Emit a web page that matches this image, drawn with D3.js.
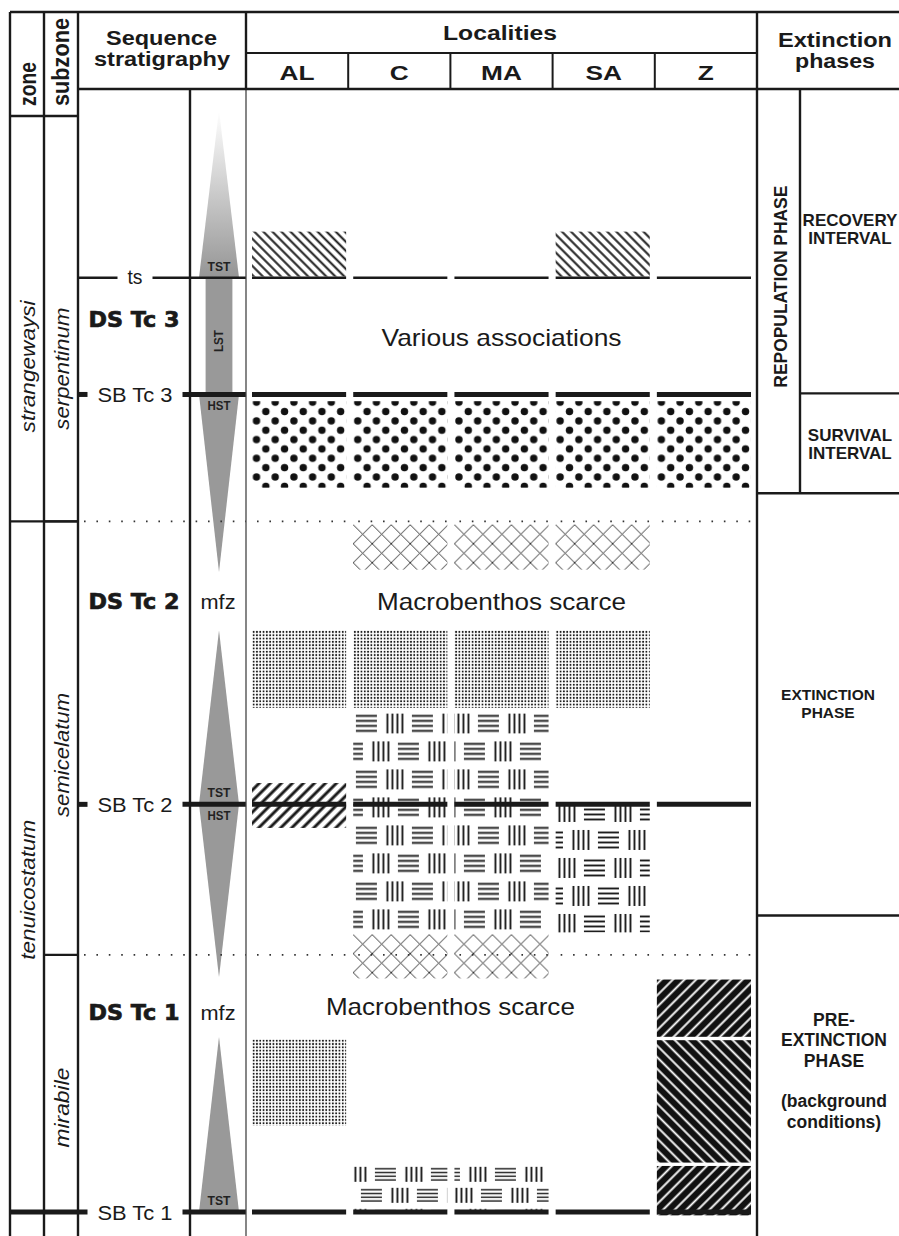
<!DOCTYPE html>
<meta charset="utf-8" />
<html>
  <head>
    <script src="https://d3js.org/d3.v7.min.js"></script>
    <style>
      body {
        margin: 0;
        background-color: white;
      }
      svg text {
        font-family: "Liberation Sans", Arial, sans-serif;
        fill: #1a1a1a;
      }
    </style>
  </head>
  <body>
    <div id="chart"></div>
  </body>

  <script>
    // stratigraphic levels: 0 = SB Tc 1, 100 = top of the log
    const localities = ["AL", "C", "MA", "SA", "Z"];

    const zones = [
      {name: "strangewaysi", top: 97.6, base: 61.5, label: 75.3},
      {name: "tenuicostatum", top: 61.5, base: -2.1, label: 28.7}
    ];

    const subzones = [
      {name: "serpentinum", top: 97.6, base: 61.5, label: 75.1},
      {name: "semicelatum", top: 61.5, base: 22.9, label: 40.7},
      {name: "mirabile", top: 22.9, base: -2.1, label: 9.3}
    ];

    const surfaces = [
      {name: "ts", level: 83.2, kind: "ts"},
      {name: "SB Tc 3", level: 72.8, kind: "SB"},
      {name: "SB Tc 2", level: 36.3, kind: "SB"},
      {name: "SB Tc 1", level: 0, kind: "SB"}
    ];

    const dottedLevels = [61.5, 22.9];

    const sequences = [
      {name: "DS Tc 3", level: 79.5, mfz: false},
      {name: "DS Tc 2", level: 54.4, mfz: true},
      {name: "DS Tc 1", level: 17.8, mfz: true}
    ];

    // systems tracts: wide end sits on the surface, narrow end is the apex
    const tracts = [
      {name: "TST", wide: 83.2, narrow: 98.1},
      {name: "LST", wide: 83.2, narrow: 72.8},
      {name: "HST", wide: 72.8, narrow: 57.0},
      {name: "TST", wide: 36.3, narrow: 51.8},
      {name: "HST", wide: 36.3, narrow: 20.9},
      {name: "TST", wide: 0, narrow: 15.6}
    ];

    const facies = [
      {loc: "AL", kind: "hatchThin", top: 87.3, base: 83.3},
      {loc: "SA", kind: "hatchThin", top: 87.3, base: 83.3},
      {loc: "AL", kind: "bigDots", top: 72.2, base: 64.5},
      {loc: "C", kind: "bigDots", top: 72.2, base: 64.5},
      {loc: "MA", kind: "bigDots", top: 72.2, base: 64.5},
      {loc: "SA", kind: "bigDots", top: 72.2, base: 64.5},
      {loc: "Z", kind: "bigDots", top: 72.2, base: 64.5},
      {loc: "C", kind: "cross", top: 61.2, base: 57.2},
      {loc: "MA", kind: "cross", top: 61.2, base: 57.2},
      {loc: "SA", kind: "cross", top: 61.2, base: 57.2},
      {loc: "AL", kind: "fineDots", top: 51.8, base: 44.9},
      {loc: "C", kind: "fineDots", top: 51.8, base: 44.9},
      {loc: "MA", kind: "fineDots", top: 51.8, base: 44.9},
      {loc: "SA", kind: "fineDots", top: 51.8, base: 44.9},
      {loc: "C", kind: "weave", top: 44.4, base: 24.9},
      {loc: "MA", kind: "weave", top: 44.4, base: 24.9},
      {loc: "SA", kind: "weave", top: 36.2, base: 24.9},
      {loc: "AL", kind: "hatchBold", top: 38.2, base: 34.2},
      {loc: "C", kind: "cross", top: 24.7, base: 20.8},
      {loc: "MA", kind: "cross", top: 24.7, base: 20.8},
      {loc: "Z", kind: "darkRight", top: 20.7, base: 15.6},
      {loc: "Z", kind: "darkLeft", top: 15.3, base: 4.4},
      {loc: "Z", kind: "darkRight", top: 4.1, base: -0.3},
      {loc: "AL", kind: "fineDots", top: 15.4, base: 7.7},
      {loc: "C", kind: "weave", top: 4.2, base: 0.2},
      {loc: "MA", kind: "weave", top: 4.2, base: 0.2}
    ];

    const notes = [
      {text: "Various associations", level: 77.9, from: "AL", to: "Z"},
      {text: "Macrobenthos scarce", level: 54.4, from: "AL", to: "Z"},
      {text: "Macrobenthos scarce", level: 18.3, from: "AL", to: "SA"}
    ];

    const phases = [
      {lines: ["REPOPULATION  PHASE"], top: 100, base: 64.0, label: 82.4},
      {lines: ["EXTINCTION", "PHASE"], top: 64.0, base: 26.4, label: 45.3},
      {lines: ["PRE-", "EXTINCTION", "PHASE", "", "(background", "conditions)"], top: 26.4, base: -2.1, label: 12.6}
    ];

    const intervals = [
      {lines: ["RECOVERY", "INTERVAL"], top: 100, base: 72.9, label: 87.5},
      {lines: ["SURVIVAL", "INTERVAL"], top: 72.9, base: 64.0, label: 68.4}
    ];

    // ---------------------------------------------------------------
    const width = 899, height = 1236;
    const X = {left: 10, zone: 44, sub: 78, tri: 190, seq: 246, loc: 757, split: 800, right: 899};
    const Y = {top: 12, head: 89, zoneHead: 116, locHead: 53, bottom: 1236};
    const ink = "#1a1a1a";

    const svg = d3.select("#chart").append("svg")
      .attr("width", width)
      .attr("height", height);

    const y = d3.scaleLinear().domain([0, 100]).range([1212, Y.head]);
    const locHead = d3.scaleBand().domain(localities).range([X.seq, X.loc]);
    const loc = d3.scaleBand().domain(localities).range([252, 751]).paddingInner(0.07);
    const tri = d3.scaleLinear().domain([-1, 1]).range([199, 239]);

    const defs = svg.append("defs");

    const grad = defs.append("linearGradient").attr("id", "fade")
      .attr("x1", 0).attr("y1", 0).attr("x2", 0).attr("y2", 1);
    grad.append("stop").attr("offset", 0).attr("stop-color", "#ffffff");
    grad.append("stop").attr("offset", 1).attr("stop-color", "#959595");

    const hatchStyle = {
      hatchThin: {pitch: 6.4, w: 2, angle: -45, color: ink, bg: null},
      hatchBold: {pitch: 7.8, w: 3, angle: 45, color: ink, bg: null},
      darkRight: {pitch: 8.2, w: 1.9, angle: 45, color: "#fff", bg: "#111"},
      darkLeft: {pitch: 8.2, w: 1.9, angle: -45, color: "#fff", bg: "#111"}
    };

    // weave phase per box: [dx, dy, vertical scale]
    const weavePhase = {
      "C:44.4": [2.7, 0, 1],
      "MA:44.4": [23.5, 0, 1],
      "SA:36.2": [42.3, 24.5, 1],
      "C:4.2": [21.7, 2, 0.75],
      "MA:4.2": [40.5, 2, 0.75]
    };

    const makePattern = (id, d, x0, y0) => {
      const p = defs.append("pattern").attr("id", id).attr("patternUnits", "userSpaceOnUse");
      if (hatchStyle[d.kind]) {
        const s = hatchStyle[d.kind];
        p.attr("width", s.pitch).attr("height", s.pitch)
          .attr("patternTransform", `rotate(${s.angle})`);
        if (s.bg) p.append("rect").attr("width", s.pitch).attr("height", s.pitch).attr("fill", s.bg);
        p.append("line")
          .attr("x1", s.pitch / 2).attr("x2", s.pitch / 2)
          .attr("y1", -1).attr("y2", s.pitch + 1)
          .attr("stroke", s.color).attr("stroke-width", s.w);
      } else if (d.kind === "bigDots") {
        const s = 18.7;
        p.attr("width", s).attr("height", s)
          .attr("patternTransform", `translate(${x0 + 4.5},${y0 + 1})`);
        [[0, 0], [s, 0], [0, s], [s, s], [s / 2, s / 2]].forEach(c =>
          p.append("circle").attr("cx", c[0]).attr("cy", c[1]).attr("r", 3.7).attr("fill", "#111"));
      } else if (d.kind === "fineDots") {
        const s = 3.3;
        p.attr("width", s).attr("height", s)
          .attr("patternTransform", `translate(${x0},${y0})`);
        p.append("circle").attr("cx", s / 2).attr("cy", s / 2).attr("r", 1.0).attr("fill", "#1a1a1a");
      } else if (d.kind === "cross") {
        const s = 19;
        p.attr("width", s).attr("height", s)
          .attr("patternTransform", `translate(${x0},${y0})`);
        p.append("path").attr("d", `M0,0L${s},${s}M${s},0L0,${s}`)
          .attr("stroke", "#222").attr("stroke-width", 0.9).attr("fill", "none");
      } else if (d.kind === "weave") {
        const ph = weavePhase[`${d.loc}:${d.top}`] || [0, 0, 1];
        p.attr("width", 56).attr("height", 56)
          .attr("patternTransform", `translate(${x0 + ph[0]},${y0 + ph[1]}) scale(1,${ph[2]})`);
        const g = p.append("g").attr("stroke", ink).attr("stroke-width", 1.9);
        const hBlock = (bx, by) => [2.5, 7.5, 12.5, 17.5].forEach(o =>
          g.append("line").attr("x1", bx).attr("x2", bx + 21).attr("y1", by + o).attr("y2", by + o));
        const vBlock = (bx, by) => [1.5, 6.5, 11.5, 16.5].forEach(o =>
          g.append("line").attr("x1", bx + o).attr("x2", bx + o).attr("y1", by).attr("y2", by + 20));
        hBlock(0, 0);
        vBlock(30, 0);
        vBlock(16, 28);
        hBlock(42, 28);
        hBlock(-14, 28);
      }
    };

    const line = (g, x1, y1, x2, y2, w = 2.4, c = ink) => g.append("line")
      .attr("x1", x1).attr("y1", y1).attr("x2", x2).attr("y2", y2)
      .attr("stroke", c).attr("stroke-width", w);

    const label = (g, s, x, yy, o = {}) => {
      const t = g.append("text")
        .attr("x", x).attr("y", yy)
        .attr("text-anchor", o.anchor || "middle")
        .style("font-size", (o.size || 16) + "px")
        .style("font-weight", o.weight || "normal")
        .style("font-style", o.italic ? "italic" : "normal")
        .text(s);
      if (o.family) t.style("font-family", o.family);
      if (o.fill) t.style("fill", o.fill);
      if (o.heavy) t.style("stroke", ink).style("stroke-width", o.heavy);
      if (o.len) t.attr("textLength", o.len).attr("lengthAdjust", "spacingAndGlyphs");
      if (o.stretch) {
        const w = t.node().getComputedTextLength();
        t.attr("textLength", w * o.stretch).attr("lengthAdjust", "spacingAndGlyphs");
      }
      if (o.rotate) t.attr("transform", `rotate(-90,${x},${yy})`);
      return t;
    };

    // --- systems tract triangles -----------------------------------
    const gTri = svg.append("g");
    const highest = d3.max(tracts, d => d.narrow);
    tracts.forEach(d => {
      if (d.name === "LST") {
        gTri.append("rect")
          .attr("x", tri(-0.67)).attr("width", tri(0.67) - tri(-0.67))
          .attr("y", y(d.wide)).attr("height", y(d.narrow) - y(d.wide))
          .attr("fill", "#999");
      } else {
        gTri.append("path")
          .attr("d", d3.line()([[tri(-1), y(d.wide)], [tri(1), y(d.wide)], [tri(0), y(d.narrow)]]) + "Z")
          .attr("fill", d.narrow === highest ? "url(#fade)" : "#999");
      }
    });

    // --- facies boxes ---------------------------------------------
    const gFac = svg.append("g");
    facies.forEach((d, i) => {
      const x0 = loc(d.loc), y0 = y(d.top);
      makePattern(`f${i}`, d, x0, y0);
      gFac.append("rect")
        .attr("x", x0).attr("width", loc.bandwidth())
        .attr("y", y0).attr("height", y(d.base) - y0)
        .attr("fill", `url(#f${i})`);
    });

    // --- dotted biozone boundaries ---------------------------------
    const gDot = svg.append("g");
    dottedLevels.forEach(v => {
      line(gDot, 84, y(v), X.seq, y(v), 1.8, "#333").attr("stroke-dasharray", "1.6,10.8");
      localities.forEach(l => line(gDot, loc(l) + 5, y(v), loc(l) + loc.bandwidth(), y(v), 1.8, "#333")
        .attr("stroke-dasharray", "1.6,10.8"));
    });

    // --- surfaces ------------------------------------------------------
    const gSurf = svg.append("g");
    const textX = 135;
    surfaces.forEach((s, i) => {
      const w = s.kind === "SB" ? 5 : 2.5;
      const tl = s.kind === "SB" ? 75 : 15;
      const yy = y(s.level);
      const first = i === surfaces.length - 1 ? X.left : X.sub;
      line(gSurf, first, yy, textX - tl / 2 - 10, yy, w);
      line(gSurf, textX + tl / 2 + 10, yy, X.seq, yy, w);
      localities.forEach(l => line(gSurf, loc(l), yy, loc(l) + loc.bandwidth(), yy, w));
      label(gSurf, s.name, textX, yy + (s.kind === "SB" ? 7.5 : 6), {size: 20, len: tl});
    });

    // --- frame ----------------------------------------------------------
    const gFrame = svg.append("g");
    line(gFrame, X.left, Y.top, X.right, Y.top);
    [X.left, X.zone, X.sub, X.loc].forEach(x => line(gFrame, x, Y.top, x, Y.bottom));
    line(gFrame, X.tri, Y.head, X.tri, Y.bottom);
    line(gFrame, X.seq, Y.top, X.seq, Y.head);
    line(gFrame, X.seq, Y.head, X.seq, Y.bottom, 1.3, "#444");
    line(gFrame, X.left, Y.zoneHead, X.sub, Y.zoneHead);
    line(gFrame, X.sub, Y.head, X.right, Y.head);
    line(gFrame, X.seq, Y.locHead, X.loc, Y.locHead, 2);
    localities.slice(1).forEach(l => line(gFrame, locHead(l), Y.locHead, locHead(l), Y.head, 2));
    zones.slice(1).forEach(z => line(gFrame, X.left, y(z.top), X.sub, y(z.top)));
    subzones.slice(1).forEach(z => line(gFrame, X.zone, y(z.top), X.sub, y(z.top)));
    line(gFrame, X.split, Y.head, X.split, y(phases[0].base));
    intervals.slice(0, -1).forEach(d => line(gFrame, X.split, y(d.base), X.right, y(d.base)));
    phases.slice(0, -1).forEach(d => line(gFrame, X.loc, y(d.base), X.right, y(d.base)));

    // --- text -------------------------------------------------------------
    const gText = svg.append("g");
    label(gText, "zone", 36, 106, {anchor: "start", size: 23, weight: "bold", len: 44, rotate: true});
    label(gText, "subzone", 69, 106, {anchor: "start", size: 23, weight: "bold", len: 88, rotate: true});
    label(gText, "Sequence", 161.5, 45, {size: 20, weight: "bold", len: 111});
    label(gText, "stratigraphy", 162, 66, {size: 20, weight: "bold", len: 136});
    label(gText, "Localities", 500, 40, {size: 20, weight: "bold", len: 114});
    localities.forEach(l => label(gText, l, locHead(l) + locHead.bandwidth() / 2, 80,
      {size: 21, weight: "bold", stretch: 1.25}));
    label(gText, "Extinction", 835, 47, {size: 20, weight: "bold", len: 114});
    label(gText, "phases", 835, 68, {size: 20, weight: "bold", len: 80});

    const zoneLen = {strangewaysi: 132, tenuicostatum: 140, serpentinum: 122, semicelatum: 124, mirabile: 80};
    zones.forEach(z => label(gText, z.name, 35, y(z.label), {size: 21, italic: true, len: zoneLen[z.name], rotate: true}));
    subzones.forEach(z => label(gText, z.name, 69, y(z.label), {size: 21, italic: true, len: zoneLen[z.name], rotate: true}));

    sequences.forEach(s => {
      label(gText, s.name, 134, y(s.level) + 7.5,
        {size: 21, weight: "bold", family: "'DejaVu Sans', sans-serif", len: 91, heavy: 0.7});
      if (s.mfz) label(gText, "mfz", 218, y(s.level) + 7.5, {size: 20, len: 35});
    });

    tracts.forEach(d => {
      if (d.name === "LST") {
        label(gText, d.name, 223.5, (y(d.wide) + y(d.narrow)) / 2 + 5,
          {size: 13, weight: "bold", len: 22, rotate: true, fill: "#222"});
      } else {
        const up = d.narrow > d.wide;
        label(gText, d.name, tri(0), y(d.wide) + (up ? -7 : 16),
          {size: 13, weight: "bold", len: 23, fill: "#222"});
      }
    });

    notes.forEach(n => {
      const cx = (locHead(n.from) + locHead(n.to) + locHead.bandwidth()) / 2;
      label(gText, n.text, cx, y(n.level) + 8.5, {size: 24, len: n.text.startsWith("Various") ? 240 : 249});
    });

    // extinction phases
    label(gText, phases[0].lines[0], 787, y(phases[0].label), {size: 19, weight: "bold", len: 202, rotate: true});
    const block = (lines, cx, level, size, lh) => {
      const first = y(level) - (lines.length - 1) * lh / 2 + size * 0.716 / 2;
      lines.forEach((t, i) => { if (t) label(gText, t, cx, first + i * lh, {size: size, weight: "bold"}); });
    };
    intervals.forEach(d => block(d.lines, 850, d.label, 17, 18));
    block(phases[1].lines, 828, phases[1].label, 15.5, 18);
    block(phases[2].lines, 834, phases[2].label, 17.5, 20.3);
  </script>
</html>
